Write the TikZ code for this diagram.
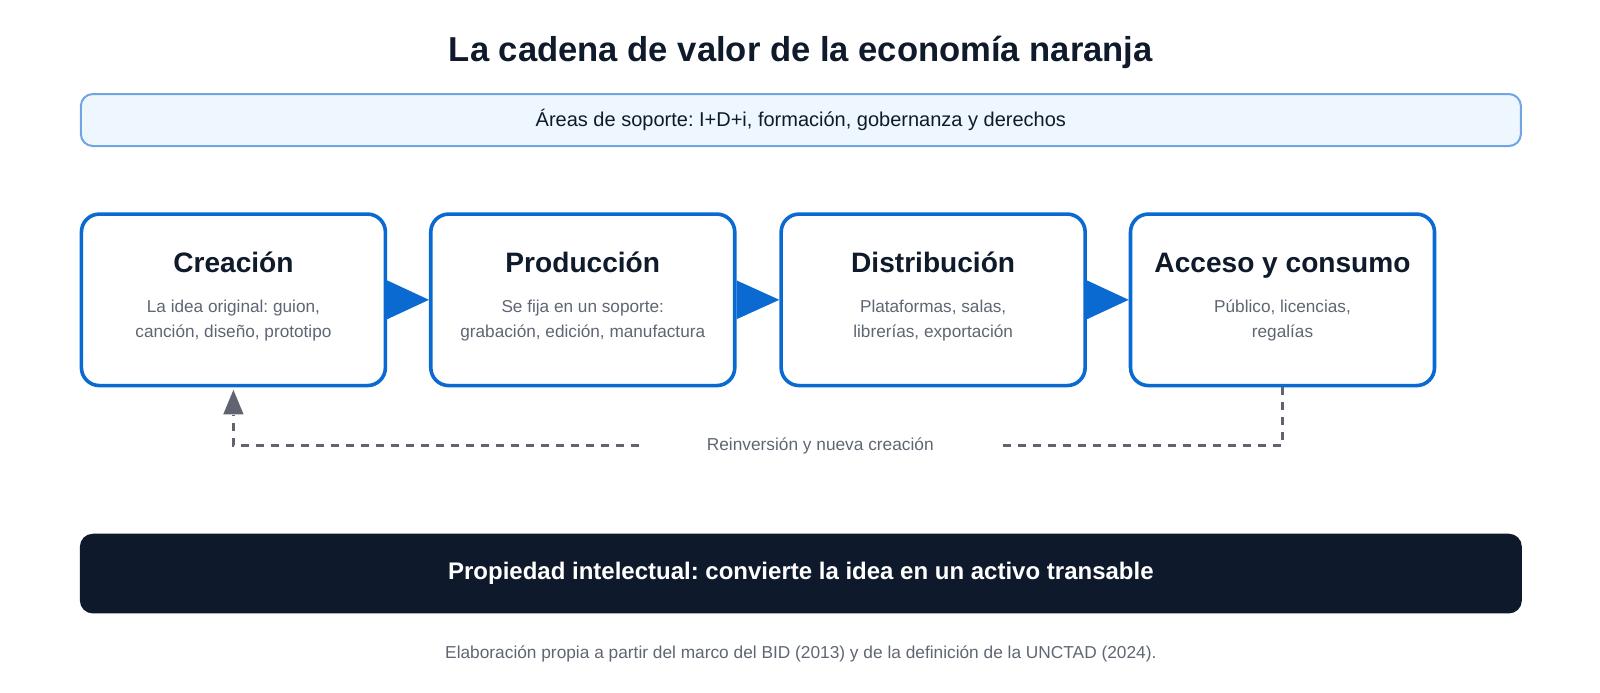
\documentclass[tikz,border=0pt]{standalone}
\usepackage{fontspec}
\setmainfont{Liberation Sans}
\frenchspacing
\usetikzlibrary{arrows.meta,calc}
\definecolor{ink}{HTML}{0F1A2B}
\definecolor{bluemain}{HTML}{0A6AD2}
\definecolor{supfill}{HTML}{EEF6FF}
\definecolor{supline}{HTML}{6EA5E2}
\definecolor{graytxt}{HTML}{5F6673}
\definecolor{dashgray}{HTML}{5F6470}
\definecolor{barfill}{HTML}{0E1A2B}
\tikzset{
  stagebox/.style={draw=bluemain, line width=3.6pt, rounded corners=18pt, fill=white,
    minimum width=304pt, minimum height=171.5pt, inner sep=0pt},
  stagetitle/.style={font=\fontsize{28.1}{33}\selectfont\bfseries, text=ink, inner sep=0pt, anchor=base},
  stagesub/.style={font=\fontsize{17.2}{24.8}\selectfont, text=graytxt, align=center, inner sep=0pt, anchor=base},
  flowtri/.style={fill=bluemain},
  loopline/.style={draw=dashgray, line width=3pt, dash pattern=on 8pt off 7pt},
}
\begin{document}
\begin{tikzpicture}[x=1.0215pt,y=-1.0215pt]
\useasboundingbox (0,0) rectangle (1566.3,678.4);
% title
\node[font=\fontsize{34.6}{40}\selectfont\bfseries, text=ink, inner sep=0pt, anchor=base] (title) at (784,60.4) {La cadena de valor de la economía naranja};
% support bar
\node[draw=supline, line width=2pt, fill=supfill, rounded corners=12pt,
      minimum width=1440pt, minimum height=52pt, inner sep=0pt,
      font=\fontsize{20}{24}\selectfont, text=ink] (support) at (784,117.5) {Áreas de soporte: I+D+i, formación, gobernanza y derechos};
% stage boxes
\node[stagebox] (c1) at (228.5,293.5) {};
\node[stagebox] (c2) at (570.5,293.5) {};
\node[stagebox] (c3) at (913.5,293.5) {};
\node[stagebox] (c4) at (1255.5,293.5) {};
% titles and descriptions
\node[stagetitle] (t1) at ($(c1.north)+(0,59)$) {Creación};
\node[stagetitle] (t2) at ($(c2.north)+(0,59)$) {Producción};
\node[stagetitle] (t3) at ($(c3.north)+(0,59)$) {Distribución};
\node[stagetitle] (t4) at ($(c4.north)+(0,59)$) {Acceso y consumo};
\node[stagesub] (s1) at ($(c1.north)+(0,122.5)$) {La idea original: guion,\\canción, diseño, prototipo};
\node[stagesub] (s2) at ($(c2.north)+(0,122.5)$) {Se fija en un soporte:\\grabación, edición, manufactura};
\node[stagesub] (s3) at ($(c3.north)+(0,122.5)$) {Plataformas, salas,\\librerías, exportación};
\node[stagesub] (s4) at ($(c4.north)+(0,122.5)$) {Público, licencias,\\regalías};
% flow triangles
\fill[flowtri] ($(c1.east)+(0,-19)$) -- (c2.west) -- ($(c1.east)+(0,19)$) -- cycle;
\fill[flowtri] ($(c2.east)+(0,-19)$) -- (c3.west) -- ($(c2.east)+(0,19)$) -- cycle;
\fill[flowtri] ($(c3.east)+(0,-19)$) -- (c4.west) -- ($(c3.east)+(0,19)$) -- cycle;
% loop
\node[font=\fontsize{17.3}{20}\selectfont, text=graytxt, inner ysep=0pt, inner xsep=68pt] (loop) at (803,436.5) {Reinversión y nueva creación};
\draw[loopline] (c4.south) |- (loop.east);
\draw[loopline] (loop.west) -| ($(c1.south)+(0,27)$);
\fill[dashgray] (c1.south) ++(0,2.5) -- ++(10,24) -- ++(-20,0) -- cycle;
% bottom bar
\node[fill=barfill, rounded corners=13pt, minimum width=1442pt, minimum height=79.7pt, inner sep=0pt,
      font=\fontsize{24}{28}\selectfont\bfseries, text=white] (ip) at (784,561.5) {Propiedad intelectual: convierte la idea en un activo transable};
% footer
\node[font=\fontsize{17.3}{20}\selectfont, text=graytxt, inner sep=0pt] (src) at (784,640) {Elaboración propia a partir del marco del BID (2013) y de la definición de la UNCTAD (2024).};
\end{tikzpicture}
\end{document}
